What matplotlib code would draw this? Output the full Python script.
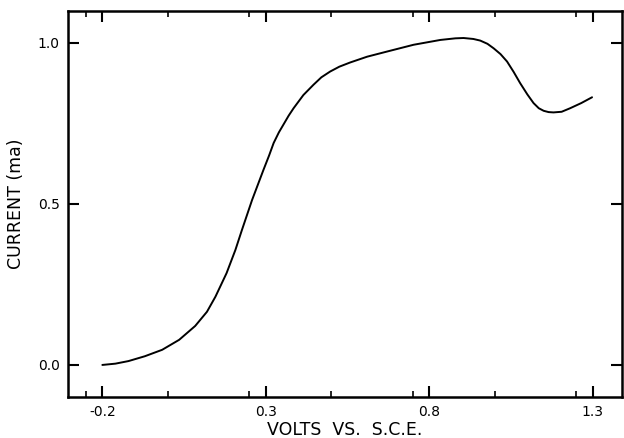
import matplotlib
matplotlib.use("Agg")
import matplotlib.pyplot as plt
from matplotlib.ticker import MultipleLocator

plt.rcParams['font.family'] = ['DejaVu Sans']

volts = [-0.200, -0.160, -0.120, -0.070, -0.017, 0.035, 0.084, 0.120, 0.146, 0.180,
         0.207, 0.227, 0.258, 0.293, 0.310, 0.324, 0.340, 0.355, 0.370, 0.385,
         0.415, 0.446, 0.470, 0.497, 0.525, 0.558, 0.610, 0.671, 0.752, 0.834,
         0.880, 0.905, 0.935, 0.956, 0.978, 0.997, 1.018, 1.038, 1.058, 1.078,
         1.100, 1.119, 1.135, 1.150, 1.165, 1.180, 1.205, 1.231, 1.265, 1.298]
current = [0.000, 0.004, 0.012, 0.027, 0.047, 0.078, 0.121, 0.165, 0.212, 0.285,
           0.357, 0.419, 0.512, 0.606, 0.650, 0.689, 0.722, 0.748, 0.774, 0.797,
           0.838, 0.870, 0.893, 0.911, 0.926, 0.939, 0.957, 0.973, 0.994, 1.009,
           1.014, 1.015, 1.012, 1.007, 0.997, 0.983, 0.965, 0.942, 0.910, 0.875,
           0.840, 0.813, 0.797, 0.789, 0.785, 0.784, 0.786, 0.797, 0.813, 0.831]

xticks = [-0.2, 0.3, 0.8, 1.3]
xticklabels = ['-0.2', '0.3', '0.8', '1.3']
yticks = [0.0, 0.5, 1.0]
yticklabels = ['0.0', '0.5', '1.0']

fig = plt.figure(figsize=(6.24, 4.38), dpi=100)
ax = fig.add_axes([0.109, 0.094, 0.888, 0.881])
ax.plot(volts, current, color='black', lw=1.4, solid_capstyle='round',
        solid_joinstyle='round')

ax.set_xlim(-0.305, 1.39)
ax.set_ylim(-0.099, 1.099)
ax.set_xticks(xticks)
ax.set_xticklabels(xticklabels)
ax.xaxis.set_minor_locator(MultipleLocator(0.25))
ax.set_yticks(yticks)
ax.set_yticklabels(yticklabels)

ax.tick_params(axis='both', which='major', direction='in', length=8, width=1.5,
               top=True, right=True, labelsize=10, pad=6)
ax.tick_params(axis='x', which='minor', direction='in', length=4, width=1.2, top=True)
for s in ax.spines.values():
    s.set_linewidth(1.8)

ax.set_xlabel('VOLTS  VS.  S.C.E.', fontsize=12.5, labelpad=1)
ax.set_ylabel('CURRENT (ma)', fontsize=12.5, labelpad=9)

fig.savefig('out.png', dpi=100)
